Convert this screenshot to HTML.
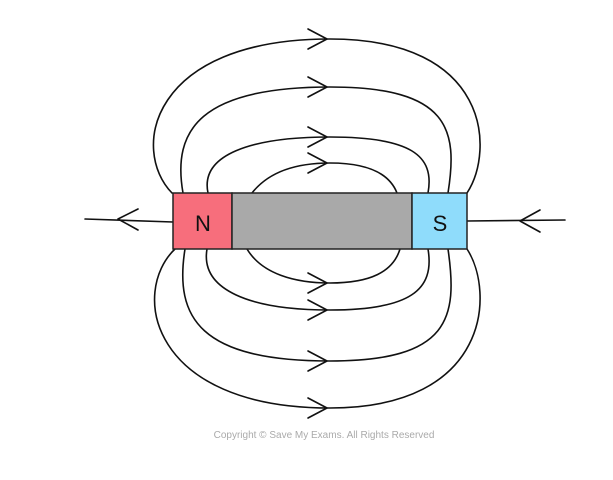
<!DOCTYPE html>
<html><head><style>
html,body{margin:0;padding:0;background:#fff;}
svg{display:block;}
</style></head><body>
<svg width="613" height="480" viewBox="0 0 613 480" xmlns="http://www.w3.org/2000/svg">
<g fill="none" stroke="#111" stroke-width="1.6" stroke-linecap="round" stroke-linejoin="round">
<!-- top lines -->
<path d="M172 193 C130 150 150 39 330 39 C490 39 495 150 467 193"/>
<path d="M183 193 C172 130 200 87 330 87 C450 87 458 130 448 193"/>
<path d="M208 193 C200 155 250 137 330 137 C410 137 435 155 428 193"/>
<path d="M252 193 C270 170 300 163 330 163 C370 163 390 175 397 193"/>
<!-- bottom lines -->
<path d="M175 249 C130 292 150 408 330 408 C490 408 495 292 467 249"/>
<path d="M185 249 C174 318 200 361 330 361 C450 361 458 318 448 249"/>
<path d="M207 249 C200 290 250 310 330 310 C410 310 435 290 428 249"/>
<path d="M247 249 C262 274 295 283 330 283 C370 283 393 272 400 249"/>
<!-- arrows -->
<path d="M308 29 L327 39 L308 49"/>
<path d="M308 77 L327 87 L308 97"/>
<path d="M308 127 L327 137 L308 147"/>
<path d="M308 153 L327 163 L308 173"/>
<path d="M308 273 L327 283 L308 293"/>
<path d="M308 300 L327 310 L308 320"/>
<path d="M308 351 L327 361 L308 371"/>
<path d="M308 398 L327 408 L308 418"/>
<!-- side lines -->
<path d="M85 219 L173 222"/>
<path d="M138 209 L118 219 L138 230"/>
<path d="M467 221 L565 220"/>
<path d="M540 210 L520 221 L540 232"/>
</g>
<rect x="173" y="193" width="59" height="56" fill="#f76e7c" stroke="#222" stroke-width="1.5"/>
<rect x="232" y="193" width="180" height="56" fill="#a9a9a9" stroke="#222" stroke-width="1.5"/>
<rect x="412" y="193" width="55" height="56" fill="#8fdcfb" stroke="#222" stroke-width="1.5"/>
<text x="203" y="231" font-family="Liberation Sans, sans-serif" font-size="22" text-anchor="middle" fill="#111">N</text>
<text x="440" y="231" font-family="Liberation Sans, sans-serif" font-size="22" text-anchor="middle" fill="#111">S</text>
<text x="324" y="438" font-family="Liberation Sans, sans-serif" font-size="10" text-anchor="middle" fill="#aaa">Copyright © Save My Exams. All Rights Reserved</text>
</svg>
</body></html>
